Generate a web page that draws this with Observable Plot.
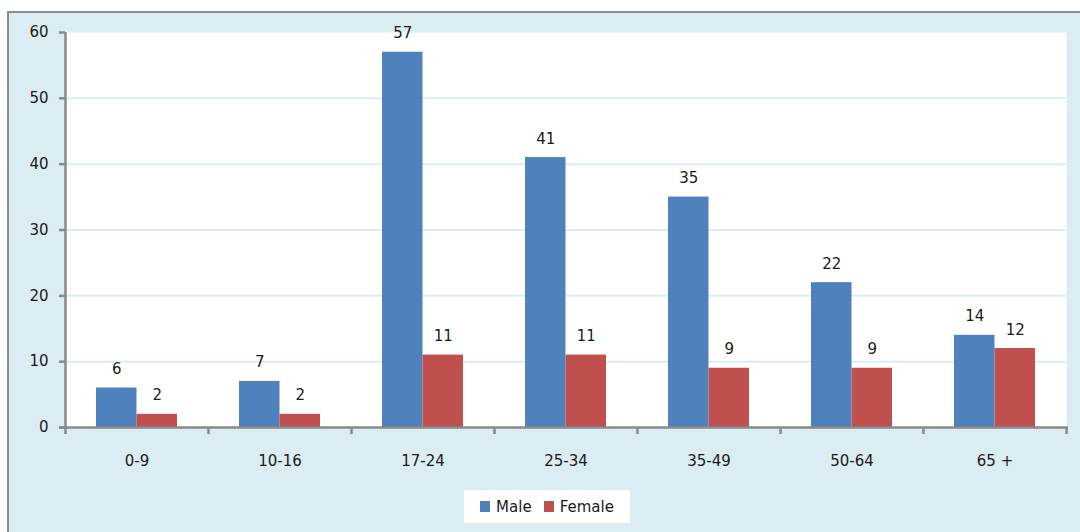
<!DOCTYPE html>
<html>
<head>
<meta charset="utf-8">
<script src="https://cdn.jsdelivr.net/npm/d3@7"></script>
<script src="https://cdn.jsdelivr.net/npm/@observablehq/plot@0.6"></script>
<style>
  html, body { margin: 0; padding: 0; background: #ffffff; overflow: hidden; }
  body { width: 1080px; height: 532px; position: relative; font-family: "DejaVu Sans", Verdana, sans-serif; }
  #panel { position: absolute; left: 7px; top: 11px; width: 1100px; height: 560px;
           background: #dbecf3; border: 2.5px solid #8c8c8c; box-sizing: border-box; }
  #chart { position: absolute; left: 0; top: 0; }
  #legend { position: absolute; left: 464px; top: 490px; width: 166px; height: 33px;
            background: #ffffff; display: flex; align-items: center; justify-content: center;
            gap: 12px; font-size: 15px; color: #1a1a1a; }
  #legend .item { display: flex; align-items: center; gap: 6px; }
  #legend .sw { width: 10px; height: 11px; display: inline-block; }
</style>
</head>
<body>
<div id="panel"></div>
<div id="chart"></div>
<div id="legend"></div>
<script>
// Age groups and counts per sex
const groups = ["0-9", "10-16", "17-24", "25-34", "35-49", "50-64", "65 +"];
const male = [6, 7, 57, 41, 35, 22, 14];
const female = [2, 2, 11, 11, 9, 9, 12];
const series = ["Male", "Female"];
const colors = ["#4f81bd", "#c0504d"];
const yTicks = [0, 10, 20, 30, 40, 50, 60];

const rows = groups.flatMap((g, i) => [
  {group: g, sex: "Male", value: male[i]},
  {group: g, sex: "Female", value: female[i]}
]);

const width = 1080, height = 480;
const marginLeft = 65, marginRight = 14, marginTop = 32, marginBottom = 53;
const bw = (width - marginLeft - marginRight) / groups.length; // band width
const barW = 40.5;
const fs = 15;

const maleRows = rows.filter(d => d.sex === "Male");
const femaleRows = rows.filter(d => d.sex === "Female");

const chart = Plot.plot({
  width, height, marginLeft, marginRight, marginTop, marginBottom,
  style: {background: "transparent", fontFamily: "\"DejaVu Sans\", Verdana, sans-serif", fontSize: fs + "px", color: "#1a1a1a", overflow: "visible"},
  x: {domain: groups, padding: 0, label: null},
  y: {domain: [0, 60], label: null},
  marks: [
    Plot.frame({fill: "white", stroke: null}),
    Plot.gridY(yTicks.filter(t => t > 0 && t < 60), {stroke: "#dbecf3", strokeOpacity: 1, strokeWidth: 2}),
    Plot.barY(maleRows, {x: "group", y: "value", fill: colors[0], insetLeft: bw / 2 - barW, insetRight: bw / 2}),
    Plot.barY(femaleRows, {x: "group", y: "value", fill: colors[1], insetLeft: bw / 2, insetRight: bw / 2 - barW}),
    Plot.text(maleRows, {x: "group", y: "value", text: d => String(d.value), dx: -barW / 2, dy: -14, lineAnchor: "bottom", fontSize: fs, fill: "#1a1a1a"}),
    Plot.text(femaleRows, {x: "group", y: "value", text: d => String(d.value), dx: barW / 2, dy: -14, lineAnchor: "bottom", fontSize: fs, fill: "#1a1a1a"}),
    // axis lines
    Plot.ruleX([groups[0]], {dx: -bw / 2, stroke: "#8a8a8a", strokeWidth: 2.5}),
    Plot.ruleY([0], {stroke: "#8a8a8a", strokeWidth: 2.5, insetLeft: -6, insetRight: -2}),
    // category boundary ticks
    Plot.ruleX(groups, {x: d => d, y1: 0, y2: 0, insetBottom: -7, dx: -bw / 2, stroke: "#8a8a8a", strokeWidth: 2.5}),
    Plot.ruleX([groups[groups.length - 1]], {y1: 0, y2: 0, insetBottom: -7, dx: bw / 2, stroke: "#8a8a8a", strokeWidth: 2.5}),
    Plot.axisY({ticks: yTicks, tickSize: 6, tickPadding: 11, stroke: "#8a8a8a", strokeWidth: 2.5, fontSize: fs, fill: "#1a1a1a"}),
    Plot.axisX({tickSize: 0, tickPadding: 28, fontSize: fs, fill: "#1a1a1a"})
  ]
});
document.getElementById("chart").appendChild(chart);

const legend = document.getElementById("legend");
series.forEach((s, i) => {
  const item = document.createElement("span");
  item.className = "item";
  const sw = document.createElement("span");
  sw.className = "sw";
  sw.style.background = colors[i];
  item.appendChild(sw);
  item.appendChild(document.createTextNode(s));
  legend.appendChild(item);
});
</script>
</body>
</html>
